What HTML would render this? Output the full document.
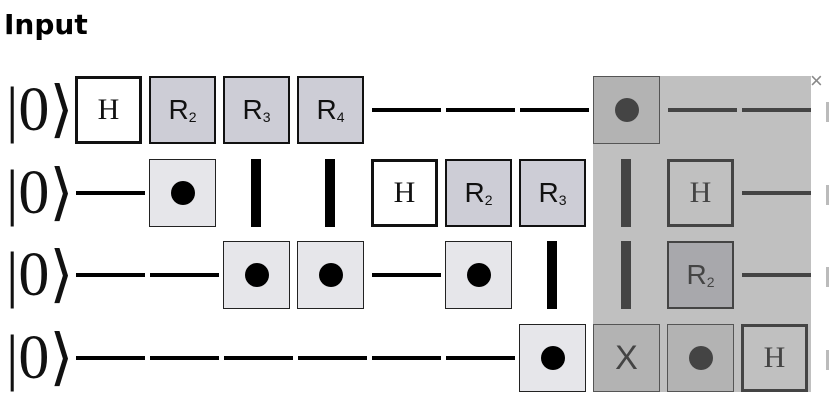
<!DOCTYPE html>
<html><head><meta charset="utf-8"><style>
body{margin:0;width:830px;height:416px;background:#fff;overflow:hidden;position:relative;font-family:"Liberation Sans",sans-serif}
.a{position:absolute;box-sizing:border-box}
.box{width:67px;height:68px;border:2px solid #111;display:flex;align-items:center;justify-content:center}
.g{font-family:"Liberation Serif",serif;font-size:30px;color:#111}
.r{font-size:28px;color:#111}
.r sub{font-size:14px;position:relative;top:7px}
.ket{font-family:"Liberation Serif",serif;font-size:62px;line-height:62px;color:#111}
.w{height:4px;background:#000}
.dot{width:24px;height:24px;border-radius:50%;background:#000}
.bar{width:10px;background:#000}
</style></head><body>
<div class="a" style="left:4px;top:8px;font-size:28px;font-weight:bold;font-family:'DejaVu Sans',sans-serif">Input</div>
<div class="a" style="left:593px;top:76px;width:218px;height:316px;background:#c0c0c0"></div>
<div class="a" style="left:810px;top:68px;font-size:22px;color:#888">×</div>
<div id="c"></div>
<script>
const colX=[75,149,223,297,371,445,519,593,667,741];
const rowY=[76,159,241,324];
const rows=[
 ['H','R2','R3','R4','w','w','w','D7','wg','wg'],
 ['w','d','b','b','H','R2','R3','bg','Hg','wg'],
 ['w','w','d','d','w','d','b','bg','R2g','wg'],
 ['w','w','w','w','w','w','d','X','Dg','Hg']
];
const c=document.getElementById('c');
function mk(cls,st,html){const e=document.createElement('div');e.className='a '+cls;e.style.cssText=st;if(html)e.innerHTML=html;c.appendChild(e);return e;}
rows.forEach((r,ri)=>{
 const y=rowY[ri];
 const k=mk('ket','left:6px;top:'+(y+3)+'px','|0⟩');
 
 
 mk('','left:826px;top:'+(y+26)+'px;width:3px;height:20px;background:#bbb');
 r.forEach((t,ci)=>{
  const x=colX[ci];let e;
  if(t==='w'||t==='wg'){e=mk('w','left:'+(x+1)+'px;top:'+(y+32)+'px;width:69px;background:'+(t==='wg'?'#444':'#000'));}
  else if(t==='b'||t==='bg'){e=mk('bar','left:'+(x+28)+'px;top:'+y+'px;height:68px;background:'+(t==='bg'?'#444':'#000'));}
  else if(t==='H'||t==='Hg'){e=mk('box g','left:'+x+'px;top:'+y+'px;'+(t==='Hg'?'background:#c0c0c0;border:3px solid #444':'background:#fff;border-width:3px'),'H');if(t==='Hg')e.style.color='#444';}
  else if(t[0]==='R'){const n=t[1];const gg=t.endsWith('g');e=mk('box r','left:'+x+'px;top:'+y+'px;background:'+(gg?'#a8a8ac;border-color:#444;color:#444':'#cdcdd6'),'R<sub>'+n+'</sub>');}
  else if(t==='d'||t==='D7'||t==='Dg'){const gg=t!=='d';e=mk('box','left:'+x+'px;top:'+y+'px;border-width:1px;'+(gg?'background:#b3b3b3;border-color:#555':'background:#e6e6ea;border-color:#222'));const d=document.createElement('div');d.className='dot';if(gg)d.style.background='#444';e.appendChild(d);}
  else if(t==='X'){e=mk('box','left:'+x+'px;top:'+y+'px;border-width:1px;background:#b3b3b3;border-color:#555;font-size:34px;color:#444','X');}
  
  
 });
});
</script>
</body></html>
